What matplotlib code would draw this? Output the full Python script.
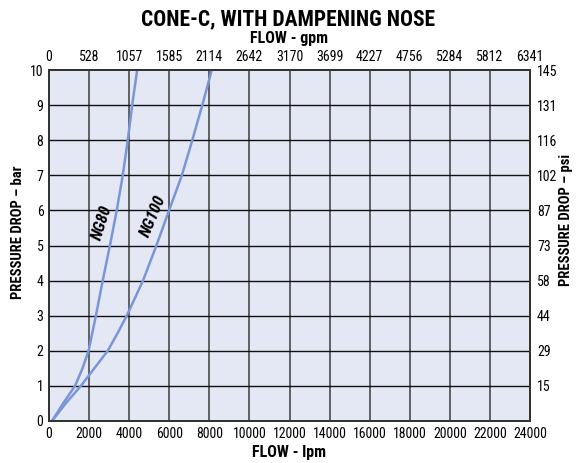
import matplotlib.pyplot as plt

plt.rcParams["font.family"] = ["Roboto Condensed", "DejaVu Sans"]

# values (flow in lpm, pressure drop in bar)
ng80_lpm = [150, 700, 1300, 1670, 1975, 2340, 2680, 3040, 3380, 3680, 3930, 4150, 4400]
ng80_bar = [0, 0.5, 1, 1.5, 2, 3, 4, 5, 6, 7, 8, 9, 10]
ng100_lpm = [150, 830, 1590, 2260, 2930, 3420, 3880, 4690, 5360, 5990, 6630, 7150, 7650, 8120]
ng100_bar = [0, 0.5, 1, 1.5, 2, 2.5, 3, 4, 5, 6, 7, 8, 9, 10]

lpm_ticks = list(range(0, 24001, 2000))
gpm_labels = ["0", "528", "1057", "1585", "2114", "2642", "3170", "3699",
              "4227", "4756", "5284", "5812", "6341"]
bar_ticks = list(range(0, 11))
psi_ticks = list(range(1, 11))
psi_labels = ["15", "29", "44", "58", "73", "87", "102", "116", "131", "145"]

line_color = "#7a96d6"
bg_color = "#e4e7f4"
W, H = 576, 463

fig = plt.figure(figsize=(5.76, 4.63), dpi=100)
ax = fig.add_axes([49 / W, 1 - 421 / H, 481 / W, 351 / H])
ax.set_facecolor(bg_color)

ax.plot(ng80_lpm, ng80_bar, color=line_color, linewidth=1.8)
ax.plot(ng100_lpm, ng100_bar, color=line_color, linewidth=1.8)

ax.set_xlim(0, 24000)
ax.set_ylim(0, 10)
ax.set_xticks(lpm_ticks)
ax.set_yticks(bar_ticks)
ax.tick_params(length=0, labelsize=10, pad=4)
for x in lpm_ticks[1:-1]:
    ax.axvline(x, color="#4a4a4a", linewidth=1.2, zorder=1)
for y in bar_ticks[1:-1]:
    ax.axhline(y, color="#111111", linewidth=1.0, zorder=1)
for s in ax.spines.values():
    s.set_color("#333333")
    s.set_linewidth(1.2)

ax.text(2650, 5.65, "NG80", rotation=72, ha="center", va="center",
        fontsize=12, fontweight="bold", fontstyle="italic")
ax.text(5200, 5.85, "NG100", rotation=67, ha="center", va="center",
        fontsize=12, fontweight="bold", fontstyle="italic")

ax_top = ax.twiny()
ax_top.set_xlim(0, 24000)
ax_top.set_xticks(lpm_ticks)
ax_top.set_xticklabels(gpm_labels)
ax_top.tick_params(length=0, labelsize=10, pad=4)

ax_r = ax.twinx()
ax_r.set_ylim(0, 10)
ax_r.set_yticks(psi_ticks)
ax_r.set_yticklabels(psi_labels)
ax_r.tick_params(length=0, labelsize=10, pad=5)

for a in (ax_top, ax_r):
    for s in a.spines.values():
        s.set_color("#333333")
        s.set_linewidth(1.2)

fig.text(0.5, 1 - 19 / H, "CONE-C, WITH DAMPENING NOSE", ha="center",
         va="center", fontsize=15.5, fontweight="bold")
fig.text(289 / W, 1 - 39 / H, "FLOW - gpm", ha="center", va="center",
         fontsize=11.5, fontweight="bold")
fig.text(289 / W, 1 - 452 / H, "FLOW - lpm", ha="center", va="center",
         fontsize=11.5, fontweight="bold")
fig.text(18 / W, 1 - 232 / H, "PRESSURE DROP – bar", ha="center", va="center",
         rotation=90, fontsize=10.5, fontweight="bold")
fig.text(566 / W, 1 - 220 / H, "PRESSURE DROP – psi", ha="center", va="center",
         rotation=90, fontsize=10.5, fontweight="bold")

fig.savefig("out.png", dpi=100)
